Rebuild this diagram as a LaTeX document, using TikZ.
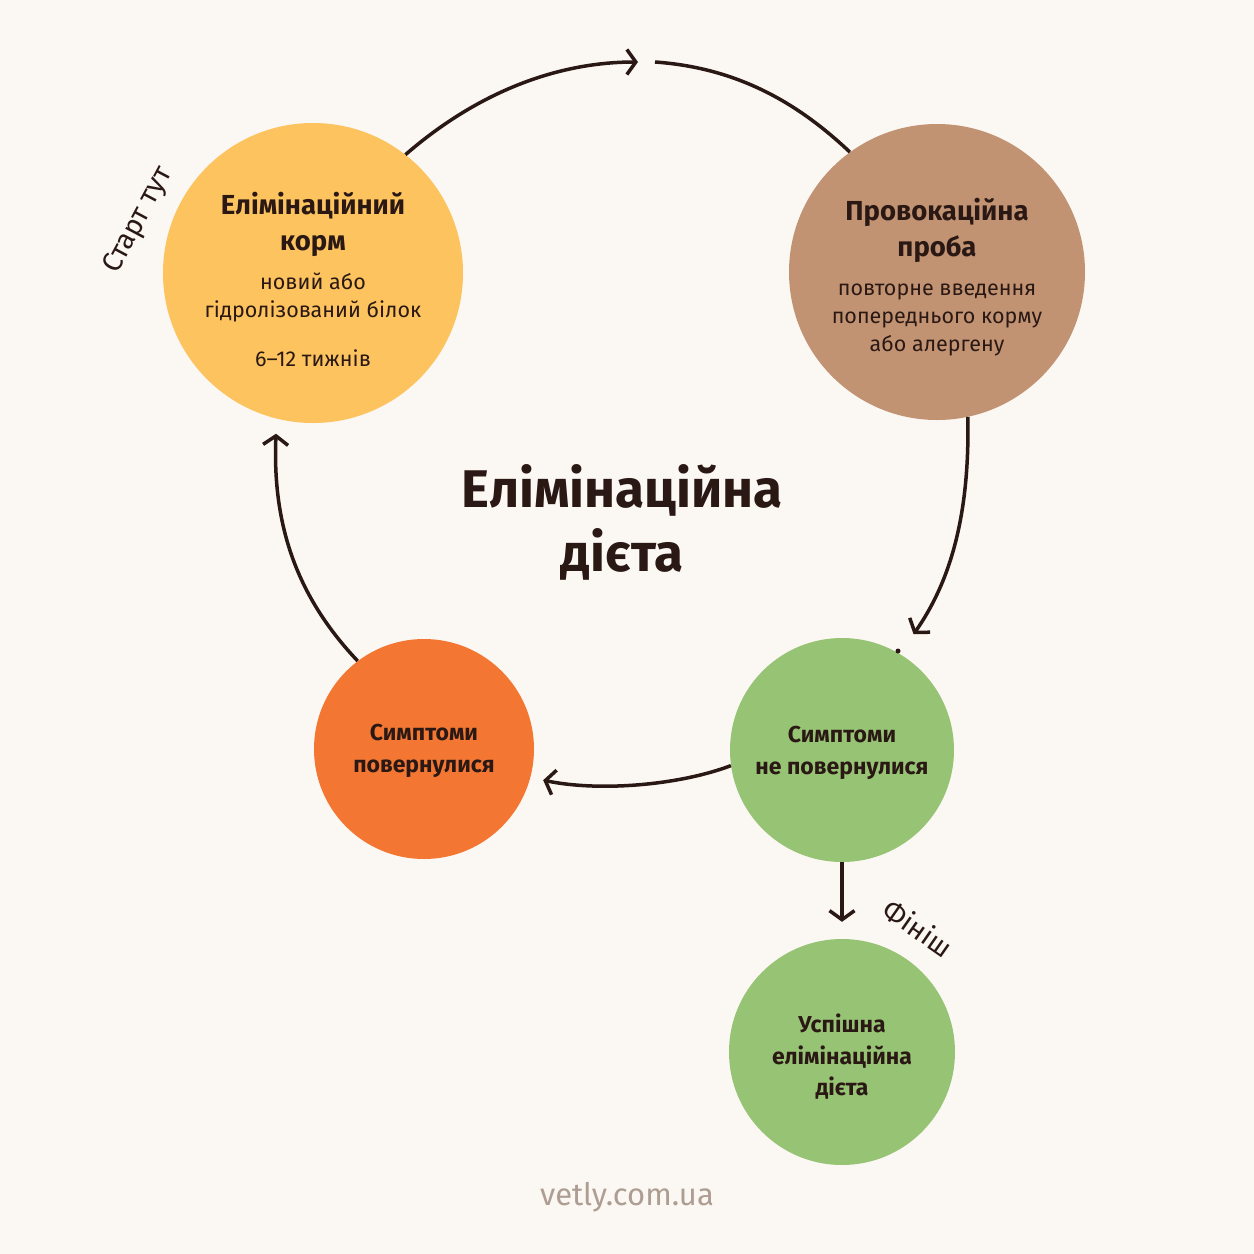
\documentclass[tikz,border=0pt]{standalone}
\usepackage{fontspec}
\setmainfont{Fira Sans}
\usetikzlibrary{arrows.meta}
\definecolor{paper}{RGB}{251,247,242}
\definecolor{ink}{RGB}{42,24,20}
\definecolor{corn}{RGB}{252,195,94}
\definecolor{clay}{RGB}{194,147,115}
\definecolor{leaf}{RGB}{151,195,117}
\definecolor{rust}{RGB}{243,119,51}
\definecolor{mark}{RGB}{174,157,146}
\newcommand{\hd}[1]{{\fontsize{27.5}{30}\selectfont\bfseries #1}}

\begin{document}
\begin{tikzpicture}[x=1pt,y=-1pt,
  stage/.style={circle, inner sep=0pt},
  txt/.style={text=ink, align=center, font=\fontsize{21.5}{28}\selectfont},
  bold/.style={txt, font=\fontsize{23}{32}\selectfont\bfseries},
  flow/.style={draw=ink, line width=3.5pt, -{Straight Barb[length=9pt,width=25pt,line width=3.5pt]}},
  note/.style={text=ink, font=\fontsize{28}{30}\selectfont}]
  \fill[paper] (0,0) rectangle (1254,1254);
  \useasboundingbox (0,0) rectangle (1254,1254);

  \node[stage, fill=corn, minimum size=300pt,
    label={[txt, yshift=-6pt]center:{\hd{Елімінаційний}\\[8pt] \hd{корм}\\[11pt] новий або\\ гідролізований білок\\[21pt] 6–12 тижнів}}] (yel) at (313,273) {};
  \node[stage, fill=clay, minimum size=296pt,
    label={[txt, yshift=-5pt]center:{\hd{Провокаційна}\\[8pt] \hd{проба}\\[11pt] повторне введення\\ попереднього корму\\ або алергену}}] (brn) at (937,272) {};
  \node[stage, fill=leaf, minimum size=224pt,
    label={[bold, yshift=-3pt]center:{Симптоми\\ не повернулися}}] (grn) at (842,750) {};
  \node[stage, fill=rust, minimum size=220pt,
    label={[bold, yshift=-2pt]center:{Симптоми\\ повернулися}}] (orn) at (424,749) {};
  \node[stage, fill=leaf, minimum size=226pt,
    label={[bold, yshift=-5pt, font=\fontsize{23}{31.5}\selectfont\bfseries]center:{Успішна\\ елімінаційна\\ дієта}}] (fin) at (842,1052) {};

  \node[text=ink, align=center, font=\fontsize{53}{64}\selectfont\bfseries] (title) at (622,522)
    {Елімінаційна\\ дієта};

  \node[note, rotate=62] (start) at (139,220) {Старт тут};
  \node[note, rotate=-35] (finish) at (918,928) {Фініш};
  \node[text=mark, font=\fontsize{31}{34}\selectfont] (site) at (627,1197) {vetly.com.ua};

  \coordinate (topin) at (638,62);
  \coordinate (topout) at (655,62);
  \fill[ink] (898,651) circle (2.5pt);

  \draw[flow] (yel.52) .. controls (480,90) and (560,62) .. (topin);
  \draw[draw=ink, line width=3.5pt] (topout) .. controls (740,68) and (800,105) .. (brn.126);
  \draw[flow, shorten >=24pt] (brn.-78) .. controls (970,520) and (948,585) .. (grn.59);
  \draw[flow, shorten >=13pt] (grn.188) .. controls (680,785) and (600,792) .. (orn.-15);
  \draw[flow, shorten >=15pt] (orn.127) .. controls (300,600) and (272,530) .. (yel.-104);
  \draw[flow, shorten >=17pt] (grn.south) -- (fin.north);
\end{tikzpicture}
\end{document}
